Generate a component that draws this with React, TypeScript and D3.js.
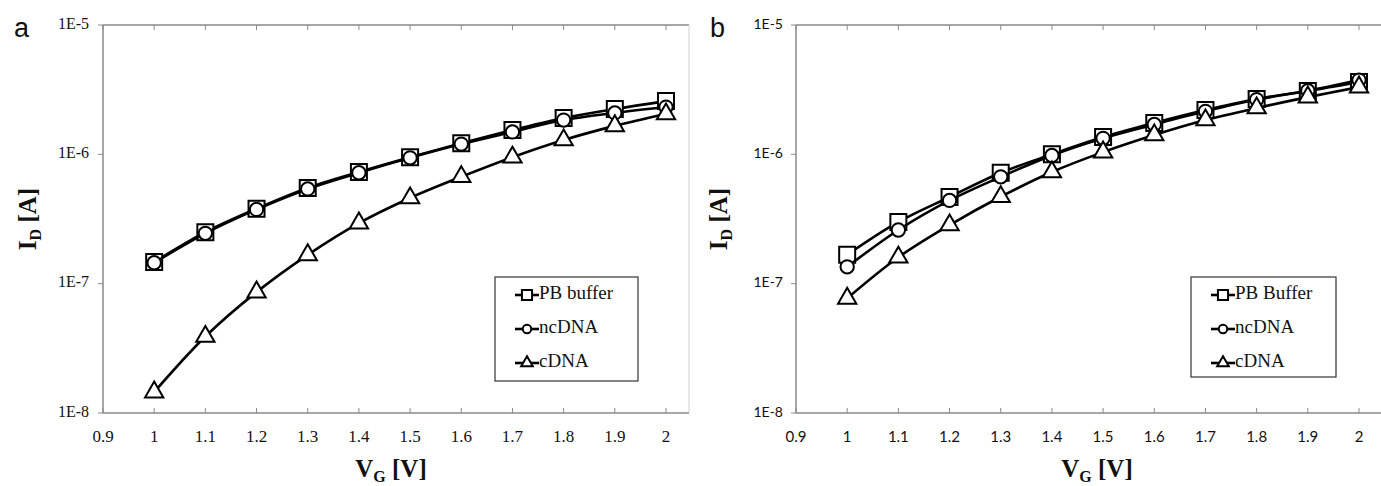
import React from 'react';
import * as d3 from 'd3';

const xValues = [1.0, 1.1, 1.2, 1.3, 1.4, 1.5, 1.6, 1.7, 1.8, 1.9, 2.0];
const xTicks = [0.9, 1.0, 1.1, 1.2, 1.3, 1.4, 1.5, 1.6, 1.7, 1.8, 1.9, 2.0];
const xTickLabels = ['0.9', '1', '1.1', '1.2', '1.3', '1.4', '1.5', '1.6', '1.7', '1.8', '1.9', '2'];
const yTicks = [1e-8, 1e-7, 1e-6, 1e-5];
const yTickLabels = ['1E-8', '1E-7', '1E-6', '1E-5'];

// Panel a
const aPB = [1.47e-7, 2.5e-7, 3.8e-7, 5.5e-7, 7.3e-7, 9.5e-7, 1.22e-6, 1.54e-6, 1.91e-6, 2.24e-6, 2.58e-6];
const aNC = [1.45e-7, 2.45e-7, 3.75e-7, 5.4e-7, 7.2e-7, 9.4e-7, 1.2e-6, 1.49e-6, 1.84e-6, 2.09e-6, 2.32e-6];
const aC = [1.45e-8, 3.9e-8, 8.6e-8, 1.67e-7, 2.94e-7, 4.6e-7, 6.7e-7, 9.5e-7, 1.29e-6, 1.66e-6, 2.05e-6];
// Panel b
const bPB = [1.67e-7, 3.0e-7, 4.68e-7, 7.2e-7, 1.0e-6, 1.36e-6, 1.75e-6, 2.2e-6, 2.68e-6, 3.09e-6, 3.63e-6];
const bNC = [1.35e-7, 2.6e-7, 4.4e-7, 6.7e-7, 9.8e-7, 1.33e-6, 1.7e-6, 2.15e-6, 2.65e-6, 3.1e-6, 3.75e-6];
const bC = [7.7e-8, 1.6e-7, 2.84e-7, 4.7e-7, 7.3e-7, 1.04e-6, 1.41e-6, 1.84e-6, 2.28e-6, 2.77e-6, 3.31e-6];

const legendA = ['PB buffer', 'ncDNA', 'cDNA'];
const legendB = ['PB Buffer', 'ncDNA', 'cDNA'];

const SERIF = '"Liberation Serif", "Times New Roman", serif';
const SANS = '"Liberation Sans", Arial, sans-serif';
const CAL = 'Lato, "Open Sans", sans-serif';

type Shape = 'square' | 'circle' | 'triangle';
const shapes: Shape[] = ['square', 'circle', 'triangle'];

function markerPath(shape: Shape, scale = 1) {
  if (shape === 'square') return d3.symbol().type(d3.symbolSquare).size(256 * scale)()!;
  if (shape === 'circle') return d3.symbol().type(d3.symbolCircle).size(140 * scale)()!;
  return d3.symbol().type(d3.symbolTriangle).size(145 * scale)()!;
}

interface PanelProps {
  left: number;
  x2: number; // pixel of x = 2.0
  xMax: number;
  letter: string;
  letterX: number;
  series: number[][];
  legend: string[];
  legendBox: [number, number, number, number];
  tickFont: string;
  tickSize: number;
  yLabelRight: number;
  xTitleX: number;
  yTitleX: number;
}

function Panel(p: PanelProps) {
  const top = 25, bottom = 413;
  const x = d3.scaleLinear().domain([0.9, 2.0]).range([p.left, p.x2]);
  const y = d3.scaleLog().domain([1e-8, 1e-5]).range([bottom, top]);
  const right = x(p.xMax);
  const line = d3
    .line<number>()
    .x((_, i) => x(xValues[i]))
    .y((d) => y(d))
    .curve(d3.curveCatmullRom.alpha(0.5));
  const [lx, ly, lw, lh] = p.legendBox;
  const axisColor = '#8a8a8a';
  return (
    <g>
      <text x={p.letterX} y={37} fontFamily={SANS} fontSize={27} fill="#111">
        {p.letter}
      </text>
      {/* frame */}
      <line x1={p.left} x2={right} y1={top} y2={top} stroke={axisColor} strokeWidth={1.5} />
      <line x1={right} x2={right} y1={top} y2={bottom} stroke="#d0d0d0" strokeWidth={1} />
      <line x1={p.left} x2={p.left} y1={top} y2={bottom} stroke={axisColor} strokeWidth={1.5} />
      <line x1={p.left} x2={right} y1={bottom} y2={bottom} stroke={axisColor} strokeWidth={1.5} />
      {xTicks.map((t, i) => (
        <g key={'xt' + i}>
          <line x1={x(t)} x2={x(t)} y1={bottom} y2={bottom - 5} stroke={axisColor} strokeWidth={1} />
          <line x1={x(t)} x2={x(t)} y1={top} y2={top + 5} stroke={axisColor} strokeWidth={1} />
          <text
            x={x(t)}
            y={bottom + 25}
            textAnchor="middle"
            dominantBaseline="middle"
            fontFamily={p.tickFont}
            fontSize={p.tickSize}
            fill="#111"
          >
            {xTickLabels[i]}
          </text>
        </g>
      ))}
      {yTicks.map((t, i) => (
        <g key={'yt' + i}>
          <line x1={p.left - 5} x2={p.left} y1={y(t)} y2={y(t)} stroke={axisColor} strokeWidth={1} />
          <text
            x={p.yLabelRight}
            y={y(t)}
            textAnchor="end"
            dominantBaseline="middle"
            fontFamily={p.tickFont}
            fontSize={p.tickSize - 1}
            fill="#111"
          >
            {yTickLabels[i]}
          </text>
        </g>
      ))}
      {/* axis titles */}
      <text x={p.xTitleX} y={477} textAnchor="middle" fontFamily={SERIF} fontWeight="bold" fontSize={25} fill="#111">
        V<tspan fontSize={16} dy={5}>G</tspan>
        <tspan dy={-5}> [V]</tspan>
      </text>
      <text
        transform={`translate(${p.yTitleX},${(top + bottom) / 2}) rotate(-90)`}
        textAnchor="middle"
        fontFamily={SERIF}
        fontWeight="bold"
        fontSize={25}
        fill="#111"
      >
        I<tspan fontSize={16} dy={5}>D</tspan>
        <tspan dy={-5}> [A]</tspan>
      </text>
      {/* series */}
      {p.series.map((vals, si) => (
        <g key={'s' + si}>
          <path d={line(vals)!} fill="none" stroke="#000" strokeWidth={2.6} />
          {vals.map((v, i) => (
            <path
              key={i}
              d={markerPath(shapes[si])}
              transform={`translate(${x(xValues[i])},${y(v)})`}
              fill="#fff"
              stroke="#000"
              strokeWidth={2}
            />
          ))}
        </g>
      ))}
      {/* legend */}
      <rect x={lx} y={ly} width={lw} height={lh} fill="#fff" stroke="#333" strokeWidth={1.2} />
      {p.legend.map((name, i) => {
        const cy = ly + 18 + i * 34;
        const mx = lx + 32;
        return (
          <g key={'lg' + i}>
            <line x1={mx - 12} x2={mx + 12} y1={cy} y2={cy} stroke="#000" strokeWidth={2.6} />
            <path d={markerPath(shapes[i], 0.4)} transform={`translate(${mx},${cy})`} fill="#fff" stroke="#000" strokeWidth={2} />
            <text x={mx + 12} y={cy} dominantBaseline="middle" fontFamily={SERIF} fontSize={19} fill="#111">
              {name}
            </text>
          </g>
        );
      })}
    </g>
  );
}

export default function App() {
  return (
    <svg
      width={1381}
      height={486}
      style={{ position: 'absolute', left: 0, top: 0, background: '#fff' }}
    >
      <rect x={0} y={0} width={1381} height={486} fill="#fff" />
      <Panel
        left={103}
        x2={666}
        xMax={2.045}
        letter="a"
        letterX={14}
        series={[aPB, aNC, aC]}
        legend={legendA}
        legendBox={[495, 277, 143, 104]}
        tickFont={SERIF}
        tickSize={17}
        yLabelRight={89}
        xTitleX={391}
        yTitleX={36}
      />
      <Panel
        left={796}
        x2={1359}
        xMax={2.05}
        letter="b"
        letterX={710}
        series={[bPB, bNC, bC]}
        legend={legendB}
        legendBox={[1191, 277, 145, 100]}
        tickFont={CAL}
        tickSize={15}
        yLabelRight={783}
        xTitleX={1097}
        yTitleX={727}
      />
    </svg>
  );
}
